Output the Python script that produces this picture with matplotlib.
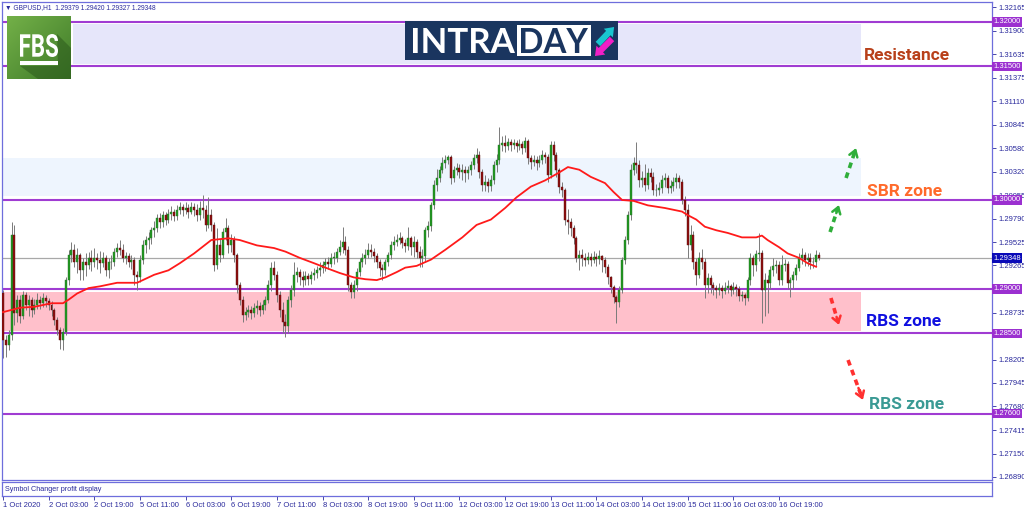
import numpy as np
import matplotlib.pyplot as plt
from matplotlib.textpath import TextPath
from matplotlib.patches import PathPatch, Rectangle, Polygon
from matplotlib.font_manager import FontProperties
from matplotlib.transforms import Affine2D
from matplotlib.colors import LinearSegmentedColormap

# ---- GBPUSD H1 candles ----
first_open = 1.2895
closes = [
    1.2843, 1.2837, 1.2848, 1.2961, 1.2873, 1.2888, 1.2870, 1.2893, 1.2882, 1.2888,
    1.2876, 1.2882, 1.2888, 1.2884, 1.2890, 1.2886, 1.2882, 1.2876, 1.2865, 1.2854,
    1.2843, 1.2852, 1.2910, 1.2938, 1.2944, 1.2930, 1.2938, 1.2921, 1.2930, 1.2927,
    1.2935, 1.2930, 1.2935, 1.2933, 1.2929, 1.2935, 1.2921, 1.2930, 1.2930, 1.2942,
    1.2946, 1.2944, 1.2935, 1.2937, 1.2930, 1.2933, 1.2916, 1.2913, 1.2933, 1.2949,
    1.2955, 1.2957, 1.2966, 1.2969, 1.2980, 1.2975, 1.2983, 1.2978, 1.2984, 1.2987,
    1.2982, 1.2989, 1.2992, 1.2989, 1.2991, 1.2987, 1.2992, 1.2989, 1.2983, 1.2991,
    1.2989, 1.2972, 1.2983, 1.2972, 1.2927, 1.2949, 1.2938, 1.2964, 1.2969, 1.2949,
    1.2955, 1.2938, 1.2904, 1.2888, 1.2871, 1.2874, 1.2876, 1.2873, 1.2879, 1.2881,
    1.2876, 1.2882, 1.2888, 1.2904, 1.2924, 1.2916, 1.2893, 1.2876, 1.2863, 1.2858,
    1.2888, 1.2899, 1.2916, 1.2919, 1.2913, 1.2910, 1.2915, 1.2911, 1.2916, 1.2918,
    1.2921, 1.2924, 1.2927, 1.2930, 1.2928, 1.2935, 1.2935, 1.2942, 1.2947, 1.2953,
    1.2944, 1.2904, 1.2897, 1.2904, 1.2919, 1.2930, 1.2935, 1.2938, 1.2944, 1.2942,
    1.2937, 1.2930, 1.2924, 1.2921, 1.2930, 1.2938, 1.2949, 1.2953, 1.2955, 1.2957,
    1.2952, 1.2948, 1.2957, 1.2947, 1.2953, 1.2942, 1.2935, 1.2937, 1.2966, 1.2971,
    1.2994, 1.3017, 1.3025, 1.3034, 1.3042, 1.3045, 1.3048, 1.3025, 1.3034, 1.3036,
    1.3031, 1.3034, 1.3030, 1.3034, 1.3039, 1.3047, 1.3051, 1.3031, 1.3017, 1.3020,
    1.3016, 1.3022, 1.3039, 1.3045, 1.3062, 1.3064, 1.3061, 1.3065, 1.3062, 1.3064,
    1.3061, 1.3063, 1.3058, 1.3066, 1.3047, 1.3043, 1.3045, 1.3042, 1.3045, 1.3051,
    1.3048, 1.3028, 1.3062, 1.3051, 1.3034, 1.3015, 1.3011, 1.2978, 1.2975, 1.2969,
    1.2957, 1.2935, 1.2938, 1.2935, 1.2933, 1.2936, 1.2933, 1.2936, 1.2934, 1.2937,
    1.2933, 1.2925, 1.2913, 1.2902, 1.2891, 1.2885, 1.2899, 1.2933, 1.2955, 1.2983,
    1.3034, 1.3042, 1.3039, 1.3022, 1.3025, 1.3017, 1.3030, 1.3026, 1.3011, 1.3011,
    1.3014, 1.3022, 1.3025, 1.3014, 1.3016, 1.3020, 1.3025, 1.3020, 1.3000, 1.2989,
    1.2949, 1.2961, 1.2930, 1.2916, 1.2935, 1.2930, 1.2904, 1.2912, 1.2904, 1.2901,
    1.2899, 1.2901, 1.2898, 1.2901, 1.2903, 1.2899, 1.2902, 1.2900, 1.2892, 1.2893,
    1.2890, 1.2910, 1.2935, 1.2927, 1.2939, 1.2940, 1.2899, 1.2910, 1.2907, 1.2921,
    1.2926, 1.2927, 1.2910, 1.2927, 1.2928, 1.2907, 1.2910, 1.2916, 1.2924, 1.2935,
    1.2938, 1.2933, 1.2935, 1.2930, 1.2930, 1.2938, 1.29348,
]
highs = [
    1.2899, 1.2848, 1.2854, 1.2975, 1.2972, 1.2893, 1.2893, 1.2898, 1.2897, 1.2893,
    1.2891, 1.2889, 1.2895, 1.2892, 1.2896, 1.2893, 1.2890, 1.2886, 1.2879, 1.2868,
    1.2857, 1.2856, 1.2914, 1.2944, 1.2953, 1.2950, 1.2946, 1.2941, 1.2935, 1.2940,
    1.2942, 1.2944, 1.2946, 1.2940, 1.2943, 1.2942, 1.2938, 1.2935, 1.2938, 1.2946,
    1.2952, 1.2955, 1.2950, 1.2942, 1.2940, 1.2938, 1.2936, 1.2920, 1.2938, 1.2955,
    1.2960, 1.2964, 1.2970, 1.2976, 1.2984, 1.2985, 1.2988, 1.2986, 1.2990, 1.2993,
    1.2990, 1.2994, 1.2998, 1.2996, 1.2998, 1.2996, 1.2998, 1.2997, 1.2995, 1.2999,
    1.3006, 1.2994, 1.3003, 1.2990, 1.2975, 1.2968, 1.2956, 1.2968, 1.2980, 1.2972,
    1.2962, 1.2960, 1.2940, 1.2908, 1.2892, 1.2880, 1.2882, 1.2881, 1.2884, 1.2888,
    1.2885, 1.2888, 1.2892, 1.2910, 1.2930, 1.2932, 1.2920, 1.2898, 1.2885, 1.2872,
    1.2892, 1.2904, 1.2930, 1.2925, 1.2922, 1.2920, 1.2920, 1.2918, 1.2920, 1.2924,
    1.2926, 1.2930, 1.2932, 1.2935, 1.2936, 1.2940, 1.2942, 1.2946, 1.2955, 1.2970,
    1.2960, 1.2948, 1.2908, 1.2910, 1.2924, 1.2935, 1.2940, 1.2945, 1.2952, 1.2950,
    1.2946, 1.2940, 1.2934, 1.2928, 1.2934, 1.2942, 1.2954, 1.2960, 1.2962, 1.2964,
    1.2960, 1.2956, 1.2970, 1.2960, 1.2960, 1.2956, 1.2948, 1.2945, 1.2970, 1.2976,
    1.2998, 1.3022, 1.3035, 1.3038, 1.3048, 1.3050, 1.3051, 1.3050, 1.3038, 1.3042,
    1.3040, 1.3040, 1.3038, 1.3038, 1.3044, 1.3052, 1.3058, 1.3055, 1.3035, 1.3028,
    1.3025, 1.3028, 1.3044, 1.3052, 1.3082, 1.3072, 1.3073, 1.3070, 1.3068, 1.3069,
    1.3067, 1.3068, 1.3066, 1.3071, 1.3068, 1.3050, 1.3050, 1.3049, 1.3050, 1.3056,
    1.3054, 1.3052, 1.3066, 1.3066, 1.3054, 1.3036, 1.3020, 1.3013, 1.2990, 1.2980,
    1.2972, 1.2960, 1.2944, 1.2945, 1.2940, 1.2942, 1.2940, 1.2943, 1.2940, 1.2944,
    1.2938, 1.2936, 1.2928, 1.2915, 1.2904, 1.2893, 1.2903, 1.2936, 1.2960, 1.2988,
    1.3040, 1.3048, 1.3065, 1.3045, 1.3033, 1.3040, 1.3036, 1.3036, 1.3032, 1.3018,
    1.3020, 1.3028, 1.3030, 1.3028, 1.3022, 1.3026, 1.3030, 1.3028, 1.3024, 1.3004,
    1.2995, 1.2972, 1.2965, 1.2935, 1.2942, 1.2945, 1.2935, 1.2918, 1.2916, 1.2908,
    1.2905, 1.2907, 1.2904, 1.2908, 1.2910, 1.2906, 1.2908, 1.2906, 1.2903, 1.2898,
    1.2896, 1.2914, 1.2940, 1.2938, 1.2944, 1.2963, 1.2944, 1.2918, 1.2916, 1.2926,
    1.2935, 1.2933, 1.2932, 1.2938, 1.2934, 1.2932, 1.2914, 1.2920, 1.2928, 1.2940,
    1.2946, 1.2942, 1.2940, 1.2940, 1.2936, 1.2944, 1.29420,
]
lows = [
    1.2822, 1.2824, 1.2832, 1.2843, 1.2860, 1.2863, 1.2862, 1.2866, 1.2876, 1.2870,
    1.2868, 1.2872, 1.2878, 1.2878, 1.2880, 1.2880, 1.2876, 1.2870, 1.2860, 1.2848,
    1.2833, 1.2832, 1.2848, 1.2905, 1.2930, 1.2925, 1.2918, 1.2910, 1.2910, 1.2915,
    1.2922, 1.2920, 1.2925, 1.2922, 1.2918, 1.2925, 1.2915, 1.2912, 1.2922, 1.2926,
    1.2936, 1.2938, 1.2930, 1.2928, 1.2925, 1.2922, 1.2905, 1.2899, 1.2908, 1.2928,
    1.2940, 1.2945, 1.2950, 1.2958, 1.2964, 1.2968, 1.2970, 1.2972, 1.2974, 1.2978,
    1.2976, 1.2978, 1.2984, 1.2982, 1.2984, 1.2980, 1.2984, 1.2982, 1.2976, 1.2978,
    1.2980, 1.2965, 1.2968, 1.2965, 1.2920, 1.2922, 1.2930, 1.2935, 1.2955, 1.2940,
    1.2942, 1.2930, 1.2895, 1.2882, 1.2863, 1.2865, 1.2868, 1.2866, 1.2868, 1.2872,
    1.2870, 1.2872, 1.2876, 1.2884, 1.2898, 1.2910, 1.2885, 1.2868, 1.2850, 1.2846,
    1.2850, 1.2880, 1.2892, 1.2908, 1.2905, 1.2902, 1.2905, 1.2905, 1.2906, 1.2910,
    1.2912, 1.2915, 1.2918, 1.2920, 1.2922, 1.2925, 1.2928, 1.2930, 1.2938, 1.2940,
    1.2938, 1.2898, 1.2890, 1.2890, 1.2898, 1.2915, 1.2925, 1.2928, 1.2935, 1.2936,
    1.2930, 1.2924, 1.2915, 1.2910, 1.2916, 1.2926, 1.2934, 1.2944, 1.2948, 1.2950,
    1.2946, 1.2942, 1.2944, 1.2938, 1.2936, 1.2935, 1.2925, 1.2925, 1.2930, 1.2958,
    1.2965, 1.2990, 1.3010, 1.3020, 1.3030, 1.3036, 1.3040, 1.3018, 1.3020, 1.3028,
    1.3025, 1.3022, 1.3020, 1.3024, 1.3028, 1.3035, 1.3042, 1.3025, 1.3010, 1.3010,
    1.3009, 1.3010, 1.3018, 1.3032, 1.3040, 1.3055, 1.3054, 1.3056, 1.3055, 1.3057,
    1.3054, 1.3056, 1.3052, 1.3054, 1.3040, 1.3035, 1.3038, 1.3034, 1.3037, 1.3040,
    1.3042, 1.3020, 1.3025, 1.3044, 1.3026, 1.3008, 1.3003, 1.2972, 1.2962, 1.2960,
    1.2950, 1.2930, 1.2921, 1.2926, 1.2926, 1.2928, 1.2926, 1.2929, 1.2926, 1.2928,
    1.2919, 1.2918, 1.2906, 1.2895, 1.2884, 1.2862, 1.2880, 1.2895, 1.2928, 1.2950,
    1.2978, 1.3028, 1.3030, 1.3015, 1.3015, 1.3010, 1.3012, 1.3020, 1.3006, 1.3005,
    1.3006, 1.3008, 1.3015, 1.3008, 1.3008, 1.3010, 1.3014, 1.3014, 1.2995, 1.2982,
    1.2935, 1.2944, 1.2922, 1.2905, 1.2912, 1.2922, 1.2890, 1.2895, 1.2896, 1.2893,
    1.2890, 1.2893, 1.2890, 1.2894, 1.2895, 1.2892, 1.2894, 1.2892, 1.2886, 1.2886,
    1.2882, 1.2886, 1.2905, 1.2915, 1.2920, 1.2932, 1.2862, 1.2870, 1.2873, 1.2900,
    1.2915, 1.2918, 1.2905, 1.2905, 1.2920, 1.2900, 1.2891, 1.2900, 1.2910, 1.2920,
    1.2928, 1.2926, 1.2926, 1.2922, 1.2924, 1.2926, 1.29327,
]
opens = [first_open] + closes[:-1]

# moving average (sampled along its path)
ma_idx = [0, 6, 11, 17, 21, 23, 26, 30, 34, 40, 47, 49, 53, 58, 62, 67, 73, 79, 83,
          89, 95, 99, 104, 109, 113, 118, 123, 127, 131, 134, 138, 141, 145, 150,
          155, 161, 166, 171, 176, 180, 185, 190, 195, 198, 202, 206, 211, 214, 217,
          221, 226, 232, 238, 240, 243, 246, 250, 254, 259, 264, 266, 268, 272, 275,
          279, 282, 285]
ma_val = [1.2874, 1.2879, 1.2880, 1.2884, 1.2884, 1.2888, 1.2895, 1.2901, 1.2903,
          1.2907, 1.2907, 1.2910, 1.2916, 1.2921, 1.2929, 1.2940, 1.2955, 1.2957,
          1.2955, 1.2949, 1.2946, 1.2942, 1.2935, 1.2929, 1.2924, 1.2918, 1.2913,
          1.2911, 1.2910, 1.2913, 1.2919, 1.2924, 1.2926, 1.2933, 1.2944, 1.2958,
          1.2972, 1.2978, 1.2991, 1.3003, 1.3015, 1.3022, 1.3031, 1.3037, 1.3034,
          1.3026, 1.3019, 1.3009, 1.3000, 1.2999, 1.2994, 1.2991, 1.2987, 1.2983,
          1.2978, 1.2970, 1.2966, 1.2963, 1.2958, 1.2958, 1.2960, 1.2955, 1.2947,
          1.2940, 1.2935, 1.2929, 1.2925]

time_labels = ['1 Oct 2020', '2 Oct 03:00', '2 Oct 19:00', '5 Oct 11:00', '6 Oct 03:00',
               '6 Oct 19:00', '7 Oct 11:00', '8 Oct 03:00', '8 Oct 19:00', '9 Oct 11:00',
               '12 Oct 03:00', '12 Oct 19:00', '13 Oct 11:00', '14 Oct 03:00',
               '14 Oct 19:00', '15 Oct 11:00', '16 Oct 03:00', '16 Oct 19:00']
price_ticks = [1.32165, 1.31900, 1.31635, 1.31375, 1.31110, 1.30845, 1.30580, 1.30320,
               1.30055, 1.29790, 1.29525, 1.29265, 1.29000, 1.28735, 1.28470, 1.28205,
               1.27945, 1.27680, 1.27415, 1.27150, 1.26890]
level_lines = [1.32000, 1.31500, 1.30000, 1.29000, 1.28500, 1.27600]
last_price = 1.29348
zones = {  # name: (low, high, start bar, end bar)
    'resistance': (1.3153, 1.3198, 24.5, 300.7),
    'sbr': (1.3004, 1.3047, -0.4, 300.7),
    'rbs': (1.2853, 1.2897, -0.4, 300.7),
}

W, H = 1024, 511
NAVY = '#2a2a9c'
SMALL = ['Liberation Sans', 'DejaVu Sans']


def px_box(x0, y0, x1, y1):
    return [x0 / W, 1 - y1 / H, (x1 - x0) / W, (y1 - y0) / H]


fig = plt.figure(figsize=(W / 100, H / 100), dpi=100)
fig.patch.set_facecolor('white')

# ---- main price window ----
XLIM = (-0.35, 346.65)
ax = fig.add_axes(px_box(2, 2, 992, 480))
ax.set_xlim(*XLIM)
ax.set_ylim(1.268539, 1.322247)
for s in ax.spines.values():
    s.set_color('#6e6edc')
    s.set_linewidth(0.9)
ax.set_xticks([])

for name, (lo, hi, a, b) in zones.items():
    col = {'resistance': '#e6e6fa', 'sbr': '#eef5fe', 'rbs': '#ffc0cb'}[name]
    ax.fill_between([a, b], lo, hi, color=col, lw=0, zorder=0)

for lv in level_lines:
    ax.axhline(lv, color='#a03cd2', lw=1.5, zorder=1)
ax.axhline(last_price, color='#a8a8a8', lw=0.9, zorder=1)

idx = np.arange(len(closes))
o = np.array(opens)
c = np.array(closes)
h = np.maximum(np.array(highs), np.maximum(o, c))
l = np.minimum(np.array(lows), np.minimum(o, c))
ax.vlines(idx, l, h, color='#7a7a7a', lw=0.7, zorder=2)
up = c >= o
body = np.maximum(np.abs(c - o), 0.00004)
ax.bar(idx[up], body[up], bottom=o[up], width=0.7, color='#1f9a1f',
       edgecolor='#2d6b2d', lw=0.3, zorder=3)
ax.bar(idx[~up], body[~up], bottom=c[~up], width=0.7, color='#8e0e0e',
       edgecolor='#5a1010', lw=0.3, zorder=3)

ax.plot(ma_idx, ma_val, color='#ff1a1a', lw=1.3, zorder=4)

# right price scale (labels fully covered by a level box are left blank)
covered = [any(abs(v - lv) < 0.0004 for lv in level_lines) for v in price_ticks]
ax.yaxis.tick_right()
ax.set_yticks(price_ticks)
ax.set_yticklabels(['' if cv else f'{v:.5f}' for v, cv in zip(price_ticks, covered)],
                   fontfamily=SMALL)
ax.tick_params(axis='y', length=3, width=0.6, color=NAVY, labelcolor=NAVY,
               labelsize=5.5, pad=1.5)
ytr = ax.get_yaxis_transform()
for lv in level_lines:
    ax.text(1.0012, lv, f'{lv:.5f}', transform=ytr, ha='left', va='center',
            fontsize=5.5, color='white', family=SMALL, clip_on=False, zorder=10,
            bbox=dict(boxstyle='square,pad=0.18', fc='#9b30d0', ec='none'))
ax.text(1.0012, last_price, f'{last_price:.5f}', transform=ytr, ha='left',
        va='center', fontsize=5.5, color='white', family=SMALL, clip_on=False,
        zorder=10, bbox=dict(boxstyle='square,pad=0.18', fc='#0a0ab8', ec='none'))


def dashed_arrow(x0, y0, x1, y1, color):
    ax.plot([x0, x0 + (x1 - x0) * 0.85], [y0, y0 + (y1 - y0) * 0.85],
            ls=(0, (1.6, 1.3)), lw=2.6, color=color, solid_capstyle='butt',
            dash_capstyle='butt', zorder=6)
    ax.annotate('', xy=(x1, y1), xytext=(x0 + (x1 - x0) * 0.7, y0 + (y1 - y0) * 0.7),
                arrowprops=dict(arrowstyle='->,head_length=0.45,head_width=0.3',
                                lw=1.8, color=color, shrinkA=0, shrinkB=0), zorder=6)


dashed_arrow(289.9, 1.29640, 293.0, 1.29944, '#2fae3a')
dashed_arrow(295.5, 1.30247, 299.0, 1.30584, '#2fae3a')
dashed_arrow(290.2, 1.28899, 293.0, 1.28596, '#ff3030')
dashed_arrow(296.2, 1.28202, 301.4, 1.27753, '#ff3030')

zf = dict(family=['Roboto', 'DejaVu Sans'], weight='bold', fontsize=12.5,
          va='center', ha='left', zorder=7)
ax.text(301.8, 1.31618, 'Resistance', color='#b8401a', **zf)
ax.text(302.8, 1.30090, 'SBR zone', color='#ff6a2b', **zf)
ax.text(302.4, 1.28640, 'RBS zone', color='#1010e0', **zf)
ax.text(303.5, 1.27697, 'RBS zone', color='#3a9a94', **zf)

# ---- sub window + time scale ----
sub = fig.add_axes(px_box(2, 482, 992, 496))
sub.set_xlim(*XLIM)
for s in sub.spines.values():
    s.set_color('#6e6edc')
    s.set_linewidth(0.9)
sub.set_yticks([])
tick_idx = list(range(0, 16 * len(time_labels), 16))
sub.set_xticks(tick_idx)
sub.set_xticklabels(time_labels, fontfamily=SMALL)
sub.tick_params(axis='x', direction='out', length=3, width=0.6, color=NAVY,
                labelcolor=NAVY, labelsize=5.5, pad=1)
for lab in sub.get_xticklabels():
    lab.set_ha('left')
sub.text(0.003, 0.45, 'Symbol Changer profit display', transform=sub.transAxes,
         fontsize=5.2, color=NAVY, family=SMALL, va='center')

# ---- overlay: header + logos ----
ov = fig.add_axes([0, 0, 1, 1], zorder=20)
ov.patch.set_alpha(0)
ov.axis('off')
ov.text(5, 8, '\u25bc GBPUSD,H1  1.29379 1.29420 1.29327 1.29348', fontsize=4.8,
        color=NAVY, family=SMALL, va='center')


def fit_text(s, x0, x1, ytop, ybot, color, family='Lato', z=5):
    tp = TextPath((0, 0), s, size=10, prop=FontProperties(family=family, weight='bold'))
    ext = tp.get_extents()
    sx = (x1 - x0) / ext.width
    sy = (ybot - ytop) / ext.height
    tr = Affine2D().translate(-ext.x0, -ext.y0).scale(sx, -sy).translate(x0, ybot)
    ov.add_patch(PathPatch(tr.transform_path(tp), fc=color, ec='none', zorder=z))


# FBS logo
g = np.linspace(0, 1, 64)
grad = np.add.outer(g, g) / 2
ov.imshow(grad, cmap=LinearSegmentedColormap.from_list('fbs', ['#73b048', '#3f7b29']),
          extent=(7, 71, 79, 16), aspect='auto', zorder=1)
ov.add_patch(Polygon([(57, 34), (71, 48), (71, 79), (38, 79), (20, 66), (58, 66)],
                     closed=True, fc='#2c5a1c', alpha=0.55, lw=0, zorder=2))
fit_text('FBS', 20, 58, 34, 57, 'white', family='Roboto', z=3)
ov.add_patch(Rectangle((20, 61), 38, 4, fc='white', lw=0, zorder=3))

# INTRADAY logo
ov.add_patch(Rectangle((405, 21), 213, 39, fc='#1a355f', lw=0, zorder=1))
fit_text('INTRA', 413, 515, 28, 53, 'white')
ov.add_patch(Rectangle((517, 25), 74, 31, fc='white', lw=0, zorder=2))
fit_text('DAY', 521, 588, 28, 53, '#1a355f')
ov.annotate('', xy=(616, 25), xytext=(596, 46),
            arrowprops=dict(arrowstyle='simple,head_length=0.6,head_width=0.9,tail_width=0.45',
                            color='#19c6cf', lw=0), zorder=3)
ov.annotate('', xy=(593, 58), xytext=(614, 37),
            arrowprops=dict(arrowstyle='simple,head_length=0.6,head_width=0.9,tail_width=0.45',
                            color='#f21fc6', lw=0), zorder=3)

ov.set_xlim(0, W)
ov.set_ylim(H, 0)

fig.savefig('out.png', dpi=100)
